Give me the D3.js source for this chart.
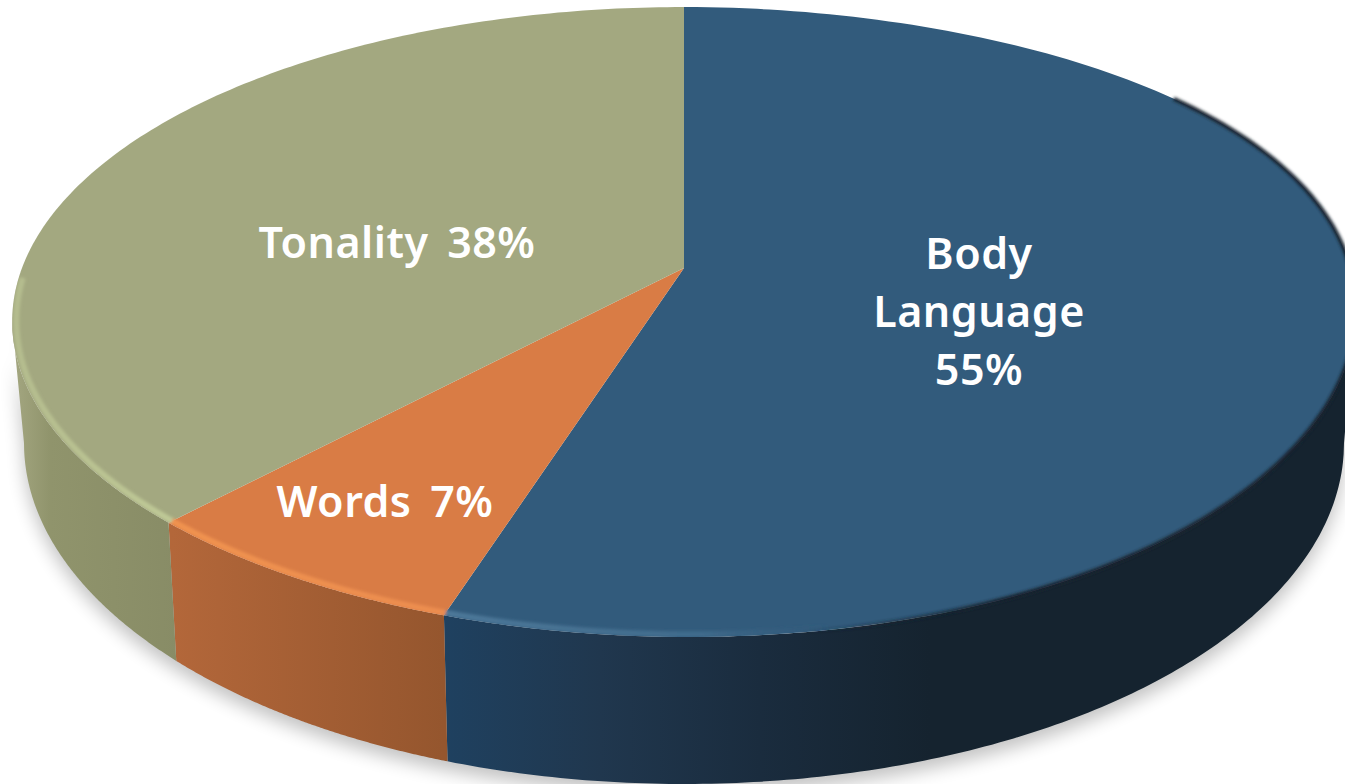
<!doctype html>
<html>
<head>
<meta charset="utf-8">
<style>
html,body{margin:0;padding:0;background:#fff;overflow:hidden}
svg{display:block}
text{font-family:"Noto Sans",sans-serif;font-weight:600;fill:#fff;letter-spacing:.5px;word-spacing:7px}
</style>
<script src="https://cdn.jsdelivr.net/npm/d3@7"></script>
</head>
<body>
<svg id="chart" width="1345" height="784"></svg>
<script>
// Share of a spoken message carried by each channel
const categories = ["Body Language", "Words", "Tonality"];
const shares = [55, 7, 38];
const labelLines = [["Body", "Language", "55%"], ["Words 7%"], ["Tonality 38%"]];

const topColors = ["#325b7c", "#d97c45", "#a3a880"];
const wallStops = [
  [[443, "#1f4160"], [600, "#20374e"], [760, "#1a2c3e"], [930, "#15232f"]],
  [[172, "#b3673a"], [443, "#95562e"]],
  [[14, "#a3a680"], [50, "#90946c"], [178, "#888c66"]]
];
const rimStops = [
  [[443, "#4d7899", 1], [700, "#406b8c", 1], [830, "#325b7c", 0]],
  [[172, "#f09350"], [443, "#ec8d4f"]],
  [[12, "#b4bc8e"], [172, "#bfc996"]]
];

// Perspective of the disc: unit circle carried onto the picture plane
const apex = {x: 684, y: 268};
const discR = 662, discB = 305.7, depthK = 0.1714;
const nearDrift = 4, sideLift = 14;
// Lower rim of the slab
const base = {cx: 684, cy: 443, a: 660, b: 341};
const convergence = 0.985;

function project(angle, f = 1) {
  const u = Math.sin(angle) * f, v = -Math.cos(angle) * f;
  const s = 1 / (1 - depthK * v);
  return [
    apex.x + discR * u * s + nearDrift * Math.max(0, v) ** 2 * s,
    apex.y + discB * v * s - sideLift * Math.max(0, u) ** 3
  ];
}
function baseUnder([x]) {
  const px = apex.x + (x - apex.x) * convergence;
  const dx = Math.max(-1, Math.min(1, (px - base.cx) / base.a));
  return [base.cx + dx * base.a, base.cy + base.b * Math.sqrt(1 - dx * dx)];
}

const pie = d3.pie().sort(null).value(d => d)(shares);
const sweep = (a0, a1) => d3.range(0, 161).map(i => a0 + (a1 - a0) * i / 160);
const path = d3.line();
const svg = d3.select("#chart");
const defs = svg.append("defs");

function gradient(id, stops) {
  const lo = stops[0][0], hi = stops[stops.length - 1][0];
  const g = defs.append("linearGradient").attr("id", id)
    .attr("gradientUnits", "userSpaceOnUse")
    .attr("x1", lo).attr("x2", hi).attr("y1", 0).attr("y2", 0);
  stops.forEach(s => g.append("stop")
    .attr("offset", (s[0] - lo) / (hi - lo))
    .attr("stop-color", s[1])
    .attr("stop-opacity", s[2] === undefined ? 1 : s[2]));
}
wallStops.forEach((s, i) => gradient("wall" + i, s));
rimStops.forEach((s, i) => gradient("rim" + i, s));
gradient("edgeDark", [[800, "#15232f", 0], [1000, "#15232f", 1]]);

const blur = (id, d) => defs.append("filter").attr("id", id)
  .attr("x", "-10%").attr("y", "-10%").attr("width", "120%").attr("height", "120%")
  .append("feGaussianBlur").attr("stdDeviation", d);
blur("soft", 9);
blur("rimBlur", 1.6);

// The wall is only seen between the disc's left and right extremes
const frontFrom = 1.742, frontTo = 4.541;
const wallPath = (a0, a1) => {
  const upper = sweep(a0, a1).map(a => project(a));
  return path(upper.concat(upper.map(baseUnder).reverse())) + "Z";
};

defs.append("clipPath").attr("id", "discClip").append("path")
  .attr("d", path(sweep(0, 2 * Math.PI).map(a => project(a))) + "Z");

// Cast shadow under the slab
svg.append("path")
  .attr("d", wallPath(frontFrom, frontTo))
  .attr("transform", "translate(0,9)")
  .attr("fill", "#000").attr("opacity", 0.24).attr("filter", "url(#soft)");

// Visible front wall of each slice
svg.append("g").selectAll("path").data(pie).join("path")
  .attr("fill", (d, i) => `url(#wall${i})`)
  .attr("d", d => wallPath(Math.max(d.startAngle, frontFrom), Math.min(d.endAngle, frontTo)));

// Top face
svg.append("g").selectAll("path").data(pie).join("path")
  .attr("fill", (d, i) => topColors[i])
  .attr("d", d => {
    const edge = sweep(d.startAngle, d.endAngle).map(a => project(a));
    return path([[apex.x, apex.y], ...edge]) + "Z";
  });

// Bevel catching light along the near edge
svg.append("g").attr("clip-path", "url(#discClip)")
  .append("g").attr("fill", "none").attr("filter", "url(#rimBlur)")
  .selectAll("path").data(pie).join("path")
  .attr("stroke", (d, i) => `url(#rim${i})`).attr("stroke-width", 6)
  .attr("d", d => path(sweep(Math.max(d.startAngle, frontFrom), Math.min(d.endAngle, 4.68)).map(a => project(a, 0.994))));

// Soft dark fall-off where the shaded side meets the top face
svg.append("path")
  .attr("fill", "none").attr("filter", "url(#rimBlur)")
  .attr("stroke", "url(#edgeDark)").attr("stroke-width", 4)
  .attr("d", path(sweep(0.95, pie[0].endAngle).map(a => project(a, 1))));

// Slice labels
const labelCentres = [[979, 312], [385, 502], [397, 243]];
const lineGap = 58, fontSize = 43;
const labels = svg.append("g").attr("text-anchor", "middle").attr("font-size", fontSize);
labelLines.forEach((lines, i) => {
  const t = labels.append("text").attr("data-category", categories[i]);
  lines.forEach((line, j) => t.append("tspan")
    .attr("x", labelCentres[i][0])
    .attr("y", labelCentres[i][1] + (j - (lines.length - 1) / 2) * lineGap + fontSize * 0.36)
    .text(line));
});
</script>
</body>
</html>
